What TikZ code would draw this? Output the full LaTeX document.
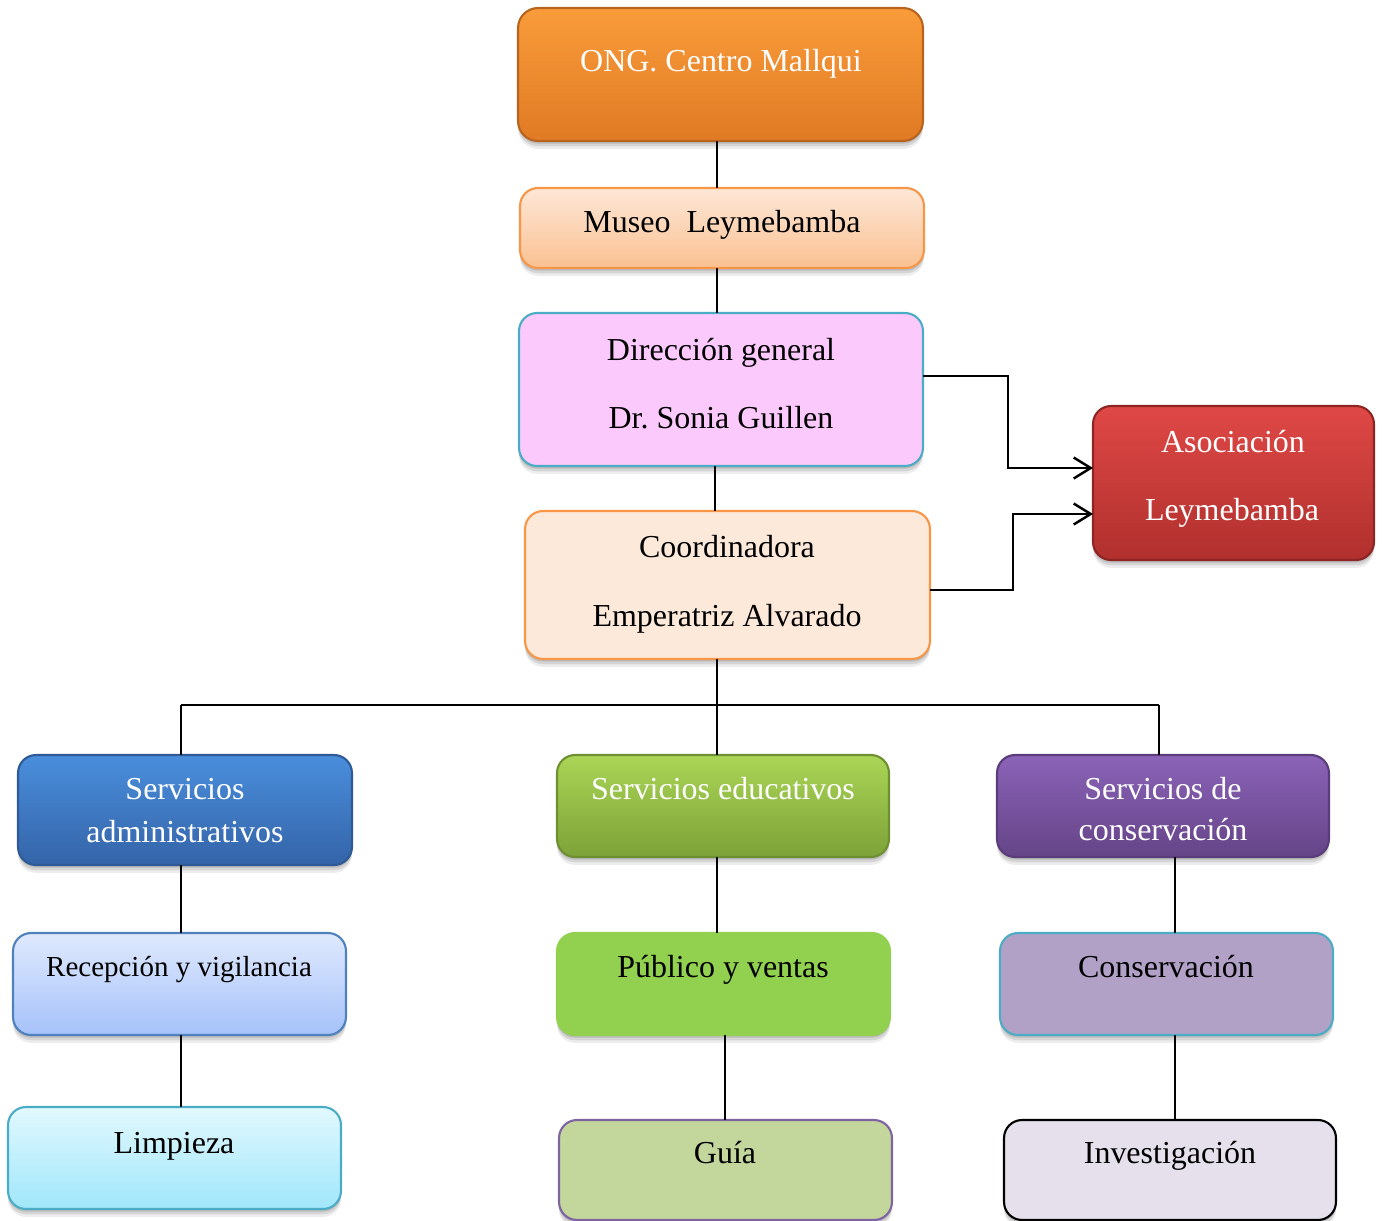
\documentclass[tikz,border=0pt]{standalone}
\usepackage{fontspec}
\setmainfont{Liberation Serif}
\usetikzlibrary{shadows,arrows.meta,calc}
\definecolor{ongT}{HTML}{F99C3A}
\definecolor{ongB}{HTML}{E07A24}
\definecolor{ongD}{HTML}{B8641E}
\definecolor{musT}{HTML}{FDE7D7}
\definecolor{musB}{HTML}{FAC192}
\definecolor{orgL}{HTML}{F79646}
\definecolor{dirF}{HTML}{FBC9FC}
\definecolor{aqua}{HTML}{4BACC6}
\definecolor{corF}{HTML}{FDE9D9}
\definecolor{asoT}{HTML}{DF4846}
\definecolor{asoB}{HTML}{B0302D}
\definecolor{asoD}{HTML}{8E2523}
\definecolor{admT}{HTML}{4A8EDC}
\definecolor{admB}{HTML}{3464A8}
\definecolor{admD}{HTML}{2E5A95}
\definecolor{eduT}{HTML}{AAD556}
\definecolor{eduB}{HTML}{7DA238}
\definecolor{eduD}{HTML}{6F8F33}
\definecolor{conT}{HTML}{8B63B8}
\definecolor{conB}{HTML}{654487}
\definecolor{conD}{HTML}{5A3C7A}
\definecolor{recT}{HTML}{DFE9FD}
\definecolor{recB}{HTML}{A6C2FA}
\definecolor{recD}{HTML}{4F81BD}
\definecolor{pubF}{HTML}{92D050}
\definecolor{cnvF}{HTML}{B2A1C7}
\definecolor{limT}{HTML}{E2F8FE}
\definecolor{limB}{HTML}{A0E7FA}
\definecolor{guiF}{HTML}{C3D69B}
\definecolor{guiD}{HTML}{8064A2}
\definecolor{invF}{HTML}{E5E0EC}
\begin{document}
\frenchspacing
\begin{tikzpicture}[x=0.02cm,y=-0.02cm,
  box/.style={rectangle, rounded corners=0.36cm, inner sep=0pt, outer sep=0pt, line width=1.2pt,
    drop shadow={shadow xshift=0pt, shadow yshift=-1.5pt, opacity=0.12, fill=black},
    drop shadow={shadow xshift=0pt, shadow yshift=-3pt, opacity=0.10, fill=black},
    drop shadow={shadow xshift=0pt, shadow yshift=-4.5pt, opacity=0.07, fill=black}},
  txt/.style={anchor=base, inner sep=0pt, font=\fontsize{18.2}{22}\selectfont},
  wtxt/.style={txt, text=white},
  conn/.style={line width=1.1pt, draw=black},
  arr/.style={line width=1.4pt, draw=black, -{Straight Barb[length=0.34cm,width=0.42cm,line width=1.4pt]}}]
\useasboundingbox (0,0) rectangle (1384,1221);
\clip (0,0) rectangle (1384,1221);

% boxes
\node[box, top color=ongT, bottom color=ongB, draw=ongD, rounded corners=0.4cm, minimum width=8.10cm, minimum height=2.66cm] (ong) at (720.5,74.5) {};
\node[box, top color=musT, bottom color=musB, draw=orgL, minimum width=8.08cm, minimum height=1.60cm] (museo) at (722,228) {};
\node[box, fill=dirF, draw=aqua, minimum width=8.08cm, minimum height=3.06cm] (dir) at (721,389.5) {};
\node[box, fill=corF, draw=orgL, minimum width=8.10cm, minimum height=2.96cm] (coord) at (727.5,585) {};
\node[box, top color=asoT, bottom color=asoB, draw=asoD, minimum width=5.62cm, minimum height=3.08cm] (asoc) at (1233.5,483) {};
\node[box, top color=admT, bottom color=admB, draw=admD, minimum width=6.68cm, minimum height=2.20cm] (sadm) at (185,810) {};
\node[box, top color=eduT, bottom color=eduB, draw=eduD, minimum width=6.64cm, minimum height=2.04cm] (sedu) at (723,806) {};
\node[box, top color=conT, bottom color=conB, draw=conD, minimum width=6.64cm, minimum height=2.04cm] (scons) at (1163,806) {};
\node[box, top color=recT, bottom color=recB, draw=recD, minimum width=6.66cm, minimum height=2.04cm] (recep) at (179.5,984) {};
\node[box, fill=pubF, draw=pubF, minimum width=6.66cm, minimum height=2.04cm] (publ) at (723.5,984) {};
\node[box, fill=cnvF, draw=aqua, minimum width=6.66cm, minimum height=2.04cm] (consv) at (1166.5,984) {};
\node[box, top color=limT, bottom color=limB, draw=aqua, minimum width=6.66cm, minimum height=2.04cm] (limp) at (174.5,1158) {};
\node[box, fill=guiF, draw=guiD, minimum width=6.66cm, minimum height=2.00cm] (guia) at (725.5,1170) {};
\node[box, fill=invF, draw=black, minimum width=6.64cm, minimum height=2.00cm] (inv) at (1170,1170) {};

% texts
\node[wtxt] (t-ong) at (721,71) {ONG. Centro Mallqui};
\node[txt] (t-mus) at (722,232) {Museo\ \ Leymebamba};
\node[txt] (t-dir1) at (721,360) {Dirección general};
\node[txt] (t-dir2) at (721,428) {Dr. Sonia Guillen};
\node[txt] (t-cor1) at (727,557) {Coordinadora};
\node[txt] (t-cor2) at (727,626) {Emperatriz Alvarado};
\node[wtxt] (t-aso1) at (1233,452) {Asociación};
\node[wtxt] (t-aso2) at (1232,520) {Leymebamba};
\node[wtxt] (t-adm1) at (185,799) {Servicios};
\node[wtxt] (t-adm2) at (185,842) {administrativos};
\node[wtxt] (t-edu) at (723,799) {Servicios educativos};
\node[wtxt] (t-con1) at (1163,799) {Servicios de};
\node[wtxt] (t-con2) at (1163,840) {conservación};
\node[txt, font=\fontsize{16.5}{20}\selectfont] (t-rec) at (179,976) {Recepción y vigilancia};
\node[txt] (t-pub) at (723,977) {Público y ventas};
\node[txt] (t-cnv) at (1166,977) {Conservación};
\node[txt] (t-lim) at (174,1153) {Limpieza};
\node[txt] (t-gui) at (725,1163) {Guía};
\node[txt] (t-inv) at (1170,1163) {Investigación};

% reference coordinates for connector lanes
\coordinate (xm) at (717,0);
\coordinate (xd) at (715,0);
\coordinate (xa) at (181,0);
\coordinate (xg) at (725,0);
\coordinate (xc) at (1175,0);
\coordinate (busL) at (181,705);
\coordinate (busR) at (1159,705);
\coordinate (ya) at (0,376);
\coordinate (yb) at (0,468);
\coordinate (yc) at (0,590);
\coordinate (yd) at (0,514);

% connectors
\draw[conn] (ong.south -| xm) -- (museo.north -| xm);
\draw[conn] (museo.south -| xm) -- (dir.north -| xm);
\draw[conn] (dir.south -| xd) -- (coord.north -| xd);
\draw[conn] (coord.south -| xm) -- (sedu.north -| xm);
\draw[conn] (busL) -- (busR);
\draw[conn] (busL) -- (sadm.north -| busL);
\draw[conn] (busR) -- (scons.north -| busR);
\draw[conn] (sadm.south -| xa) -- (recep.north -| xa);
\draw[conn] (recep.south -| xa) -- (limp.north -| xa);
\draw[conn] (sedu.south -| xm) -- (publ.north -| xm);
\draw[conn] (publ.south -| xg) -- (guia.north -| xg);
\draw[conn] (scons.south -| xc) -- (consv.north -| xc);
\draw[conn] (consv.south -| xc) -- (inv.north -| xc);
\draw[arr] (dir.east |- ya) -- ++(85,0) |- (asoc.west |- yb);
\draw[arr] (coord.east |- yc) -- ++(83,0) |- (asoc.west |- yd);
\end{tikzpicture}
\end{document}
